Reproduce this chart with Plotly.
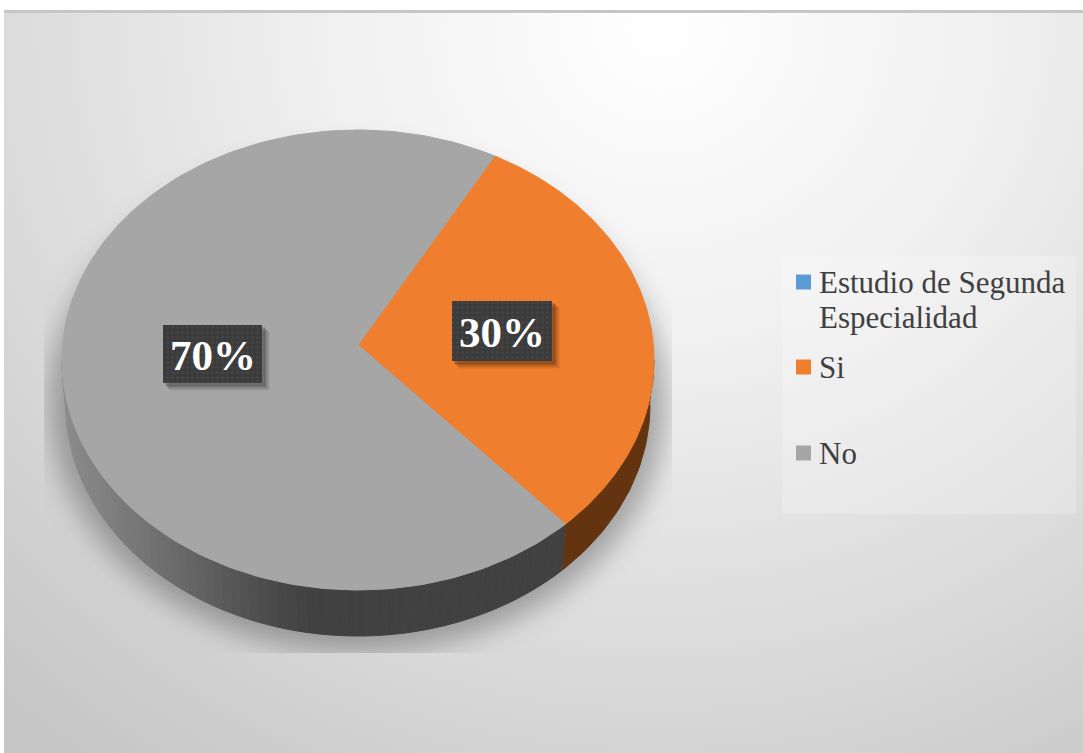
import base64
import numpy as np
import plotly.graph_objects as go

# ---- data ----
categories = ["Estudio de Segunda<br>Especialidad", "Si", "No"]
shares = [0, 30, 70]
share_labels = ["", "30%", "70%"]
colors = ["#5b9bd5", "#ef7e2f", "#a6a6a6"]

# ---- geometry of the drawn disc, in page pixels ----
W, H = 1083, 753
CX, CY, RX, RY = 358, 360, 296, 230
APEX = (358, 345)
BX, BY, BRX, BRY = 358, 405, 292, 231
START = 27.5
SERIF = "Liberation Serif"


def top(t):
    t = np.radians(t)
    return CX + RX * np.sin(t), CY - RY * np.cos(t)


def bottom(t):
    t = np.radians(t)
    return BX + BRX * np.sin(t), BY - BRY * np.cos(t)


def backdrop():
    svg = f'''<svg xmlns="http://www.w3.org/2000/svg" width="{W}" height="{H}" viewBox="0 0 {W} {H}">
<defs>
<radialGradient id="g" gradientUnits="userSpaceOnUse" cx="0" cy="0" r="1"
 gradientTransform="translate(660 30) scale(960 900)">
<stop offset="0" stop-color="#ffffff"/><stop offset="0.35" stop-color="#f0f0f0"/>
<stop offset="0.72" stop-color="#d9d9d9"/><stop offset="1" stop-color="#c6c6c6"/>
</radialGradient>
<filter id="b" x="-20%" y="-20%" width="140%" height="140%"><feGaussianBlur stdDeviation="14"/></filter>
<clipPath id="c"><rect x="44" y="100" width="628" height="553"/></clipPath>
</defs>
<rect width="{W}" height="{H}" fill="#ffffff"/>
<rect x="4" y="11" width="{W-4}" height="{H-11}" fill="url(#g)"/>
<rect x="4" y="10" width="{W-4}" height="3" fill="#c6c6c6"/>
<g clip-path="url(#c)"><ellipse cx="358" cy="402" rx="308" ry="250" fill="#000000" fill-opacity="0.3" filter="url(#b)"/></g>
<rect x="782" y="256" width="294" height="258" fill="#ffffff" fill-opacity="0.22"/>
</svg>'''
    return "data:image/svg+xml;base64," + base64.b64encode(svg.encode()).decode()


def mix(x):
    return int(round(np.interp(x, [62, 140, 200, 270, 310], [0x8c, 0x75, 0x62, 0x4a, 0x41])))


fig = go.Figure()


def poly(xs, ys, color, **kw):
    fig.add_trace(go.Scatter(x=xs, y=ys, mode="lines", fill="toself", fillcolor=color,
                             line=dict(color=color, width=1), hoverinfo="skip",
                             showlegend=False, **kw))


# side wall and top face come from the shares
angle = START
spans = []
for share in shares:
    sweep = share * 3.6
    spans.append((angle, angle + sweep))
    angle += sweep

# orange wall
a0, a1 = spans[1]
ts = np.linspace(90, a1, 40)
tx, ty = top(ts)
bx, by = bottom(ts)
poly(np.r_[tx, bx[::-1]], np.r_[ty, by[::-1]], "#63340f")

# grey wall, in narrow strips for its shading
a0, a1 = spans[2]
edges = np.linspace(a0, 270, 70)
for e0, e1 in zip(edges[:-1], edges[1:]):
    ts = np.linspace(e0, e1, 4)
    tx, ty = top(ts)
    bx, by = bottom(ts)
    v = mix(float(tx.mean()))
    poly(np.r_[tx, bx[::-1]], np.r_[ty, by[::-1]], f"rgb({v},{v},{v})")

# top face
for (a0, a1), share, color in zip(spans, shares, colors):
    if share == 0:
        continue
    ts = np.linspace(a0, a1, 200)
    tx, ty = top(ts)
    poly(np.r_[APEX[0], tx, APEX[0]], np.r_[APEX[1], ty, APEX[1]], color)

# data label boxes
boxes = {1: (452, 301, 552, 361), 2: (163, 325, 262, 383)}
for i, (x0, y0, x1, y1) in boxes.items():
    for d, op in [(7, 0.08), (5, 0.12), (3, 0.18)]:
        poly([x0 + d, x1 + d, x1 + d, x0 + d, x0 + d], [y0 + d, y0 + d, y1 + d, y1 + d, y0 + d],
             f"rgba(0,0,0,{op})")
    fig.add_trace(go.Scatter(x=[x0, x1, x1, x0, x0], y=[y0, y0, y1, y1, y0], mode="lines",
                             fill="toself", line=dict(width=0, color="#3b3b3b"),
                             fillcolor="#3b3b3b",
                             fillpattern=dict(shape=".", bgcolor="#3b3b3b", fgcolor="#4c4c4c",
                                              size=5, solidity=0.35),
                             hoverinfo="skip", showlegend=False))
    fig.add_annotation(x=(x0 + x1) / 2, y=(y0 + y1) / 2 + 1, text=f"<b>{share_labels[i]}</b>",
                       showarrow=False, font=dict(family=SERIF, size=43, color="#ffffff"))

# legend
legend_y = [282, 367, 453]
LEGEND_LINE = 35
fig.add_trace(go.Scatter(x=[803.5] * 3, y=legend_y, mode="markers",
                         marker=dict(symbol="square", size=15, color=colors, line=dict(width=0)),
                         hoverinfo="skip", showlegend=False))
for name, y in zip(categories, legend_y):
    for k, line in enumerate(name.split("<br>")):
        fig.add_annotation(x=817, y=y + k * LEGEND_LINE, text=line, showarrow=False,
                           xanchor="left", yanchor="middle", align="left",
                           font=dict(family=SERIF, size=31, color="#404040"))

fig.update_layout(
    width=W, height=H, margin=dict(l=0, r=0, t=0, b=0), showlegend=False,
    paper_bgcolor="#ffffff", plot_bgcolor="rgba(0,0,0,0)",
    xaxis=dict(range=[0, W], visible=False, fixedrange=True),
    yaxis=dict(range=[H, 0], visible=False, fixedrange=True),
    images=[dict(source=backdrop(), xref="x", yref="y", x=0, y=0, sizex=W, sizey=H,
                 sizing="stretch", layer="below", xanchor="left", yanchor="top")],
)
fig.write_html("out.html", config={"displayModeBar": False},
               post_script="document.body.style.margin='0';")
